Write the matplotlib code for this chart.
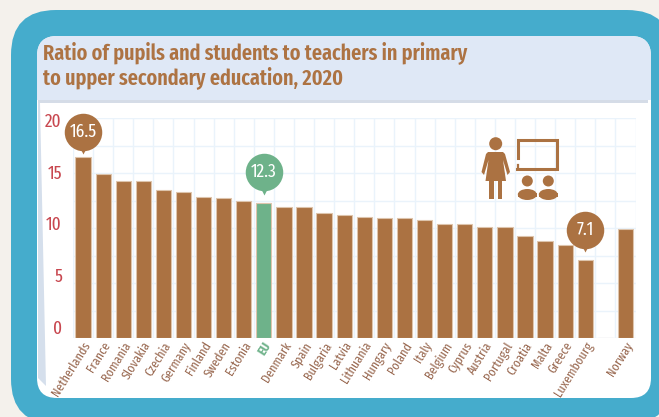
import matplotlib
matplotlib.use('Agg')
import matplotlib.pyplot as plt
from matplotlib import font_manager as fm
from matplotlib.patches import FancyBboxPatch, Rectangle, Polygon, Circle, Ellipse
from matplotlib.transforms import offset_copy

countries = ['Netherlands', 'France', 'Romania', 'Slovakia', 'Czechia', 'Germany', 'Finland',
             'Sweden', 'Estonia', 'EU', 'Denmark', 'Spain', 'Bulgaria', 'Latvia', 'Lithuania',
             'Hungary', 'Poland', 'Italy', 'Belgium', 'Cyprus', 'Austria', 'Portugal', 'Croatia',
             'Malta', 'Greece', 'Luxembourg', '', 'Norway']
ratios = [16.5, 14.9, 14.3, 14.3, 13.5, 13.3, 12.8, 12.7, 12.5, 12.3, 11.9, 11.9, 11.4, 11.2,
          11.0, 10.9, 10.9, 10.7, 10.4, 10.4, 10.1, 10.1, 9.3, 8.8, 8.5, 7.1, 0, 9.9]
y_ticks = [0, 5, 10, 15, 20]
callouts = ['Netherlands', 'EU', 'Luxembourg']
title = 'Ratio of pupils and students to teachers in primary\nto upper secondary education, 2020'

W, H = 659, 417
BROWN = '#AB7242'
GREEN = '#6EB28A'
TEAL = '#45ACCC'
GRID = '#EAF3FB'

names = {f.name for f in fm.fontManager.ttflist}
FONT = next((n for n in ['Fira Sans Extra Condensed', 'PT Sans Narrow', 'Barlow Condensed', 'Asap Condensed',
                         'Liberation Sans Narrow', 'Liberation Sans'] if n in names), 'DejaVu Sans')
plt.rcParams['font.family'] = [FONT, 'DejaVu Sans']

fig = plt.figure(figsize=(W / 100, H / 100), dpi=100, facecolor='#F4F1EC')

# background panels, in pixel coordinates
bg = fig.add_axes([0, 0, 1, 1])
bg.set_xlim(0, W)
bg.set_ylim(H, 0)
bg.axis('off')
bg.add_patch(FancyBboxPatch((11 + 45, 10 + 45), 661 - 90, 414 - 90, boxstyle='round,pad=45,rounding_size=45',
                            fc=TEAL, ec='none'))
bg.add_patch(FancyBboxPatch((37 + 20, 36 + 20), 614 - 40, 362 - 40, boxstyle='round,pad=20,rounding_size=20',
                            fc='white', ec='none'))
header = FancyBboxPatch((37 + 20, 36 + 20), 614 - 40, 362 - 40, boxstyle='round,pad=20,rounding_size=20',
                        fc='#DFE8F6', ec='none')
bg.add_patch(header)
header.set_clip_path(Rectangle((0, 0), W, 100, transform=bg.transData))
bg.add_patch(Rectangle((38, 99.5), 610, 3.5, fc='#D5DCE7', ec='none'))
bg.add_patch(Polygon([(38, 103), (40, 103), (46, 386), (38, 378)], fc='#D5DFEC', ec='none'))
title_text = bg.text(43, 65.5, title, color='#AD7343', fontsize=18, fontweight=600, va='center', ha='left',
                     linespacing=1.12)
# scale the title so it spans the same width whichever narrow font was found
fig.canvas.draw()
title_text.set_fontsize(18 * 424 / title_text.get_window_extent().width)

# chart
ax = fig.add_axes([73 / W, 1 - 338.3 / H, 562.5 / W, 220.3 / H], facecolor='none')
positions = list(range(len(countries)))
colors = [GREEN if c == 'EU' else BROWN for c in countries]
ax.bar(positions, ratios, width=0.76, color=colors, edgecolor='#DDC4AC', linewidth=0.8, zorder=3)
ax.set_xlim(-0.5, len(countries) - 0.5)
ax.set_ylim(0, 20)
ax.set_xticks([p - 0.5 for p in positions] + [len(countries) - 0.5])
ax.set_yticks([v * 2.5 for v in range(9)])
ax.grid(True, color=GRID, linewidth=1.0, zorder=0)
ax.tick_params(left=False, bottom=False, labelleft=False, labelbottom=False)
for s in ax.spines.values():
    s.set_visible(False)

# y labels sit slightly off the gridlines in the original
for v in y_ticks:
    ax.text(-1.05, 0.9 + v * 0.936, str(v), color='#C8474F', fontsize=13.5, ha='right', va='center', clip_on=False)

# country labels are cut off by the panel edge, as Luxembourg is in the original
panel = Rectangle((0, 0), W, 398, transform=bg.transData)
for p, c in zip(positions, countries):
    is_eu = c == 'EU'
    label = ax.annotate(c, (p, 0), xytext=(-0.5, -1), textcoords='offset points', rotation=58, rotation_mode='anchor',
                        ha='right', va='top', fontsize=9.5, color=GREEN if is_eu else '#9A6A52',
                        fontweight='bold' if is_eu else 'normal', annotation_clip=False)
    label.set_clip_path(panel)
    label.set_clip_on(True)

# value bubbles
for c in callouts:
    i = countries.index(c)
    col = GREEN if c == 'EU' else BROWN
    rise = 18 if c == 'Netherlands' else 22
    circle_tr = offset_copy(ax.transData, fig, x=0, y=rise, units='points')
    tip_tr = offset_copy(ax.transData, fig, x=0, y=rise - 13.5, units='points')
    ax.plot([i], [ratios[i]], 'o', ms=27, color=col, mec='none', transform=circle_tr, clip_on=False, zorder=5)
    ax.plot([i], [ratios[i]], 'v', ms=6, color=col, mec='none', transform=tip_tr, clip_on=False, zorder=5)
    ax.text(i, ratios[i], f'{ratios[i]}', color='white', fontsize=13.5, ha='center', va='center',
            transform=circle_tr, zorder=6)

# teacher and pupils icon
top = fig.add_axes([0, 0, 1, 1], facecolor='none')
top.set_xlim(0, W)
top.set_ylim(H, 0)
top.axis('off')
top.add_patch(Circle((495.7, 143.7), 6.5, fc=BROWN, ec='none'))
top.add_patch(Polygon([(488, 152), (503, 152), (505, 154), (510, 172), (507.5, 175), (503, 160), (506, 181),
                       (485.5, 181), (488.5, 160), (484, 175), (481.5, 172), (486, 154)], fc=BROWN, ec='none'))
top.add_patch(Rectangle((489, 180), 4.5, 19, fc=BROWN, ec='none'))
top.add_patch(Rectangle((497.5, 180), 4.5, 19, fc=BROWN, ec='none'))
top.plot([518, 518], [165, 168], color=BROWN, lw=1.6)
top.plot([518, 518, 557, 557, 516.5], [158, 140, 140, 169, 169], color=BROWN, lw=2.2, solid_joinstyle='miter')
for cx in (527.3, 548.3):
    top.add_patch(Circle((cx, 181), 5.5, fc=BROWN, ec='none'))
    top.add_patch(Ellipse((cx, 194.5), 19, 11, fc=BROWN, ec='none'))
    top.add_patch(Rectangle((cx - 9.5, 193), 19, 4, fc=BROWN, ec='none'))

fig.savefig('out.png', dpi=100, facecolor=fig.get_facecolor())
